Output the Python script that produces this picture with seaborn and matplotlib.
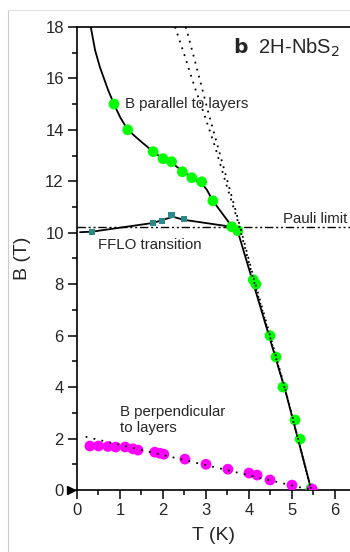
import numpy as np
import pandas as pd
import matplotlib
matplotlib.use("Agg")
import matplotlib.pyplot as plt
from matplotlib.ticker import MultipleLocator
from matplotlib.lines import Line2D
import seaborn as sns

# B parallel to layers (green circles)
par_T = [0.86, 1.18, 1.77, 2.0, 2.2, 2.45, 2.67, 2.9, 3.16, 3.6, 3.74, 4.1, 4.16, 4.49, 4.63, 4.79, 5.07, 5.19, 5.44]
par_B = [15.0, 14.0, 13.15, 12.88, 12.76, 12.37, 12.14, 11.98, 11.24, 10.23, 10.08, 8.17, 8.0, 6.0, 5.17, 4.0, 2.72, 1.98, 0.05]

# solid guide line through the parallel data
par_line_T = [0.32, 0.42, 0.53, 0.72, 0.86, 1.0, 1.18, 1.45, 1.77, 2.0, 2.2, 2.45, 2.67, 2.9, 3.02, 3.16, 3.4, 3.6, 3.74, 4.84, 5.45]
par_line_B = [18.0, 17.1, 16.45, 15.56, 15.0, 14.5, 14.0, 13.6, 13.15, 12.88, 12.72, 12.4, 12.14, 11.92, 11.67, 11.24, 10.7, 10.25, 10.05, 3.9, 0.0]

# two dotted fits (parallel)
fitA_T = [2.28, 2.5, 2.75, 3.0, 3.2, 3.45, 3.75, 4.1, 4.84, 5.45]
fitA_B = [18.0, 16.9, 15.6, 14.4, 13.4, 12.0, 10.4, 8.2, 3.9, 0.0]
fitB_T = [2.53, 2.7, 2.88, 3.05, 3.2, 3.45, 3.8, 4.1, 4.84, 5.45]
fitB_B = [18.0, 16.95, 15.8, 14.7, 13.8, 12.3, 10.2, 8.3, 3.95, 0.0]

# FFLO transition (teal squares + line)
fflo_T = [0.35, 1.77, 1.98, 2.2, 2.49]
fflo_B = [10.04, 10.37, 10.46, 10.69, 10.53]
fflo_line_T = [0.07, 0.35, 1.77, 2.23, 2.49, 3.6]
fflo_line_B = [10.02, 10.04, 10.38, 10.62, 10.5, 10.23]

# Pauli limit
pauli_B = 10.23

# B perpendicular to layers (magenta circles)
perp_T = [0.3, 0.5, 0.72, 0.9, 1.12, 1.3, 1.42, 1.81, 1.93, 2.02, 2.51, 3.0, 3.51, 4.0, 4.19, 4.49, 5.0, 5.47]
perp_B = [1.71, 1.71, 1.69, 1.67, 1.67, 1.6, 1.55, 1.47, 1.43, 1.39, 1.2, 1.0, 0.81, 0.66, 0.58, 0.39, 0.19, 0.04]
perp_fit_T = [0.2, 5.45]
perp_fit_B = [2.07, 0.0]

sns.set_theme(style="ticks")
plt.rcParams["font.family"] = ["Liberation Sans", "DejaVu Sans"]

fig = plt.figure(figsize=(3.5, 5.52), dpi=100)
ax = fig.add_axes([0.22, 0.1123, 0.78, 0.839])

# solid line under points
sns.lineplot(x=par_line_T, y=par_line_B, sort=False, estimator=None, color="black", lw=1.3, ax=ax, zorder=2)
sns.lineplot(x=fflo_line_T, y=fflo_line_B, sort=False, estimator=None, color="black", lw=1.3, ax=ax, zorder=2)

sns.scatterplot(x=par_T, y=par_B, color="#00ff00", s=60, edgecolor="none", ax=ax, zorder=3)
sns.scatterplot(x=perp_T, y=perp_B, color="#ff00ff", s=60, edgecolor="none", ax=ax, zorder=3)
sns.scatterplot(x=fflo_T, y=fflo_B, color="#2a8a8a", marker="s", s=20, edgecolor="none", ax=ax, zorder=3)

# dotted fits on top
for tt, bb in [(fitA_T, fitA_B), (fitB_T, fitB_B)]:
    sns.lineplot(x=tt, y=bb, sort=False, estimator=None, color="black", lw=1.3,
                 linestyle=(0, (1, 3)), ax=ax, zorder=4)
sns.lineplot(x=perp_fit_T, y=perp_fit_B, sort=False, estimator=None, color="black", lw=1.3,
             linestyle=(0, (1, 3.5)), ax=ax, zorder=4)

ax.axhline(pauli_B, color="black", lw=1.0, linestyle=(0, (6, 2, 1.5, 2, 1.5, 2)), zorder=2)

ax.plot([-0.15], [0], marker=">", color="black", markersize=6, clip_on=False, zorder=5)

ax.set_xlim(0, 6.35)
ax.set_ylim(0, 18)
ax.xaxis.set_major_locator(MultipleLocator(1))
ax.xaxis.set_minor_locator(MultipleLocator(0.5))
ax.yaxis.set_major_locator(MultipleLocator(2))
ax.yaxis.set_minor_locator(MultipleLocator(1))
ax.tick_params(which="major", length=6.5, width=1.1, labelsize=12, pad=3, color="black")
ax.tick_params(which="minor", length=3.5, width=1.1, color="black")
for s in ["left", "bottom", "top"]:
    ax.spines[s].set_linewidth(1.2)
    ax.spines[s].set_color("black")
ax.spines["right"].set_visible(False)

ax.set_xlabel("T (K)", fontsize=14, labelpad=6)
ax.set_ylabel("B (T)", fontsize=14, labelpad=10)

ax.text(1.12, 15.0, "B parallel to layers", fontsize=10.8, va="center")
ax.text(3.63, 17.2, r"$\mathbf{b}$  2H-NbS$_2$", fontsize=14.5, va="center")
ax.text(6.28, 10.55, "Pauli limit", fontsize=10.8, va="center", ha="right")
ax.text(0.49, 9.53, "FFLO transition", fontsize=10.8, va="center")
ax.text(1.0, 2.72, "B perpendicular\nto layers", fontsize=10.8, va="center", linespacing=1.2)

# light frame lines of the original figure panel
fig.add_artist(Line2D([8 / 350, 8 / 350], [0, 1 - 10 / 552], color="#cccccc", lw=0.8))
fig.add_artist(Line2D([8 / 350, 1], [1 - 10 / 552, 1 - 10 / 552], color="#e0e0e0", lw=0.8))

fig.savefig("out.png", dpi=100)
